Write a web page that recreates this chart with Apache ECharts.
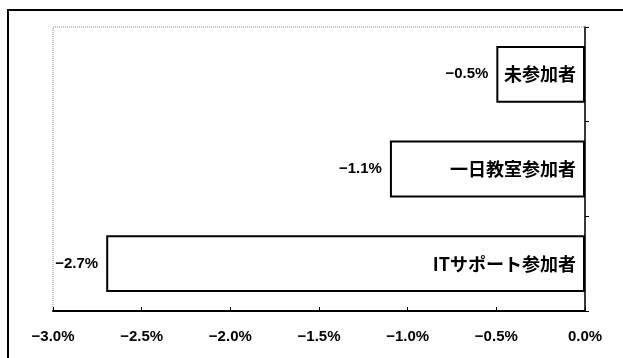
<!DOCTYPE html>
<html>
<head>
<meta charset="utf-8">
<script src="https://cdn.jsdelivr.net/npm/echarts@6/dist/echarts.min.js"></script>
<style>
  html, body { margin: 0; padding: 0; background: #fff; }
  #chart { width: 623px; height: 358px; }
</style>
</head>
<body>
<div id="chart"></div>
<script>
// Groups listed from top to bottom
const categories = ['未参加者', '一日教室参加者', 'ITサポート参加者'];
// Change rate in percent
const values = [-0.5, -1.1, -2.7];
const axisMin = -3.0;
const axisMax = 0.0;
const axisStep = 0.5;

const jpFont = '"Noto Sans CJK JP", "Noto Sans", sans-serif';
const numFont = '"Liberation Sans", Arial, sans-serif';

// Percent text with a wide minus sign
const pct = v => (v < 0 ? '\u2212' : '') + Math.abs(v).toFixed(1) + '%';

const chart = echarts.init(document.getElementById('chart'), null, { renderer: 'canvas' });

chart.setOption({
  animation: false,
  backgroundColor: '#fff',
  grid: {
    left: 53, right: 38, top: 27, bottom: 47,
    show: true,
    borderColor: '#8a8a8a',
    borderWidth: 1,
    borderType: 'dotted'
  },
  graphic: [
    {
      type: 'polyline',
      shape: { points: [[8, 400], [8, 10], [640, 10]] },
      style: { stroke: '#000', lineWidth: 2, fill: null },
      silent: true
    }
  ],
  xAxis: {
    type: 'value',
    min: axisMin,
    max: axisMax,
    interval: axisStep,
    axisLine: { show: true, onZero: false, lineStyle: { color: '#000', width: 2 } },
    axisTick: { show: true, inside: true, length: 4, lineStyle: { color: '#000', width: 1 } },
    splitLine: { show: false },
    axisLabel: {
      margin: 18,
      color: '#000',
      fontFamily: numFont,
      fontWeight: 'bold',
      fontSize: 15,
      formatter: v => pct(v)
    }
  },
  yAxis: {
    type: 'category',
    data: categories,
    inverse: true,
    position: 'right',
    axisLine: { show: true, lineStyle: { color: '#000', width: 1.5 } },
    axisTick: { show: true, inside: false, length: 4, lineStyle: { color: '#000' } },
    axisLabel: { show: false },
    splitLine: { show: false }
  },
  series: [
    {
      type: 'bar',
      data: values,
      barWidth: '60%',
      itemStyle: { color: '#fff', borderColor: '#000', borderWidth: 2 },
      label: {
        show: true,
        position: 'left',
        distance: 8,
        color: '#000',
        fontFamily: numFont,
        fontWeight: 'bold',
        fontSize: 15,
        formatter: p => pct(p.value)
      },
      z: 3
    },
    {
      type: 'bar',
      data: values,
      barWidth: '60%',
      barGap: '-100%',
      itemStyle: { color: 'transparent', borderWidth: 0 },
      label: {
        show: true,
        position: 'insideRight',
        distance: 9,
        color: '#000',
        fontFamily: jpFont,
        fontWeight: 'bold',
        fontSize: 18,
        formatter: p => categories[p.dataIndex]
      },
      z: 4
    }
  ]
});
</script>
</body>
</html>
